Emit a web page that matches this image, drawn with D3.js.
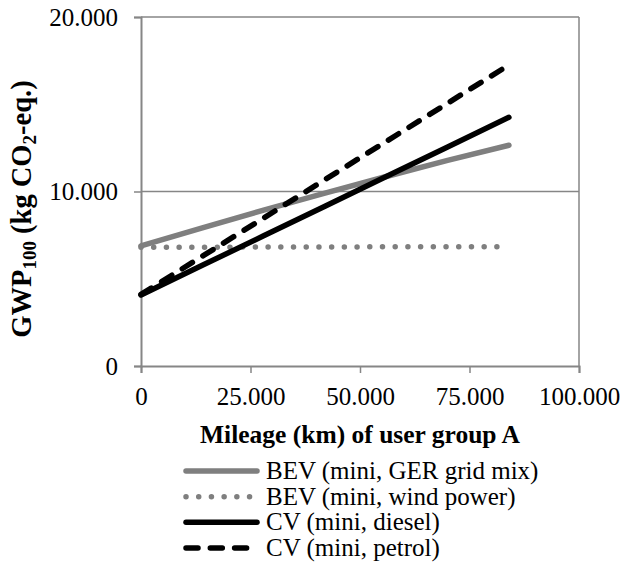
<!DOCTYPE html>
<html>
<head>
<meta charset="utf-8">
<script src="https://cdn.jsdelivr.net/npm/d3@7/dist/d3.min.js"></script>
<style>
  html, body { margin: 0; padding: 0; background: #fff; }
  svg text { font-family: "Liberation Serif", "Times New Roman", Times, "DejaVu Serif", serif; fill: #000; }
</style>
</head>
<body>
<svg id="chart" width="622" height="565"></svg>
<script>
// ---- data ----
const mileage  = [0, 14000, 28000, 42000, 56000, 70000, 84000];
const bevGrid  = [6880, 7920, 8930, 9910, 10860, 11780, 12650];
const bevWind  = [6800, 6810, 6815, 6820, 6830, 6835, 6840];
const cvDiesel = [4070, 5770, 7460, 9160, 10860, 12550, 14250];
const cvPetrol = [4100, 6290, 8480, 10680, 12870, 15060, 17250];
const seriesNames = ["BEV (mini, GER grid mix)", "BEV (mini, wind power)", "CV (mini, diesel)", "CV (mini, petrol)"];
const xTicks = [0, 25000, 50000, 75000, 100000];
const yTicks = [0, 10000, 20000];

// ---- layout ----
const W = 622, H = 565;
const m = {left: 141, right: 43, top: 17, bottom: 199};
const pw = W - m.left - m.right, ph = H - m.top - m.bottom;
const gray = "#7f7f7f", axisGray = "#868686";
const FONT = '"Liberation Serif", "Times New Roman", Times, "DejaVu Serif", serif';

const styles = [
  {color: gray, dash: null},
  {color: gray, dash: "0.01 12.7"},
  {color: "#000", dash: null},
  {color: "#000", dash: "12 12.3"}
];
const allSeries = [bevGrid, bevWind, cvDiesel, cvPetrol];

const loc = d3.formatLocale({decimal: ",", thousands: ".", grouping: [3], currency: ["", ""]});
const fmt = loc.format(",d");

const svg = d3.select("#chart");
svg.append("rect").attr("width", W).attr("height", H).attr("fill", "#fff");
const g = svg.append("g").attr("transform", `translate(${m.left},${m.top})`);

const x = d3.scaleLinear().domain([0, 100000]).range([0, pw]);
const y = d3.scaleLinear().domain([0, 20000]).range([ph, 0]);

// gridlines
g.append("g").selectAll("line").data(yTicks.filter(d => d > 0)).join("line")
  .attr("x1", 0).attr("x2", pw).attr("y1", d => y(d)).attr("y2", d => y(d))
  .attr("stroke", axisGray).attr("stroke-width", 1.5);
// right border
g.append("line").attr("x1", pw).attr("x2", pw).attr("y1", 0).attr("y2", ph)
  .attr("stroke", axisGray).attr("stroke-width", 1.5);

// axes
const fs = 25;
const xAxis = g.append("g").attr("transform", `translate(0,${ph})`)
  .call(d3.axisBottom(x).tickValues(xTicks).tickFormat(fmt).tickSize(7).tickPadding(14));
const yAxis = g.append("g")
  .call(d3.axisLeft(y).tickValues(yTicks).tickFormat(fmt).tickSize(7).tickPadding(16));
[xAxis, yAxis].forEach(a => {
  a.attr("font-family", null).attr("font-size", null);
  a.selectAll("path.domain").attr("stroke", axisGray).attr("stroke-width", 2);
  a.selectAll(".tick line").attr("stroke", axisGray).attr("stroke-width", 1.5);
  a.selectAll("text").style("font-family", FONT).style("font-size", fs + "px").attr("fill", "#000");
});

// lines
const line = d3.line().x((d, i) => x(mileage[i])).y(d => y(d));
allSeries.forEach((s, k) => {
  g.append("path").datum(s).attr("d", line)
    .attr("fill", "none").attr("stroke", styles[k].color).attr("stroke-width", 5.5)
    .attr("stroke-linecap", "round").attr("stroke-linejoin", "round")
    .attr("stroke-dasharray", styles[k].dash);
});

// x axis title
svg.append("text").attr("x", m.left + pw / 2).attr("y", 443)
  .attr("text-anchor", "middle").style("font-family", FONT).style("font-weight", "bold").style("font-size", "25.5px")
  .text("Mileage (km) of user group A");

// y axis title
const yt = svg.append("text").attr("transform", "translate(31,209) rotate(-90)")
  .attr("text-anchor", "middle").style("font-family", FONT).style("font-weight", "bold").style("font-size", "28.5px");
yt.append("tspan").text("GWP");
yt.append("tspan").style("font-size", "19px").attr("dy", 5).text("100");
yt.append("tspan").attr("dy", -5).text(" (kg CO");
yt.append("tspan").style("font-size", "19px").attr("dy", 5).text("2");
yt.append("tspan").attr("dy", -5).text("-eq.)");

// legend
const legY = d3.scalePoint().domain(seriesNames).range([471, 548]);
const leg = svg.append("g");
seriesNames.forEach((name, k) => {
  const yy = legY(name);
  leg.append("line").attr("x1", 186).attr("x2", 257).attr("y1", yy).attr("y2", yy)
    .attr("stroke", styles[k].color).attr("stroke-width", 5.5).attr("stroke-linecap", "round")
    .attr("stroke-dasharray", styles[k].dash);
  leg.append("text").attr("x", 266).attr("y", yy).attr("dy", "0.32em")
    .style("font-family", FONT).style("font-size", "25px").text(name);
});
</script>
</body>
</html>
